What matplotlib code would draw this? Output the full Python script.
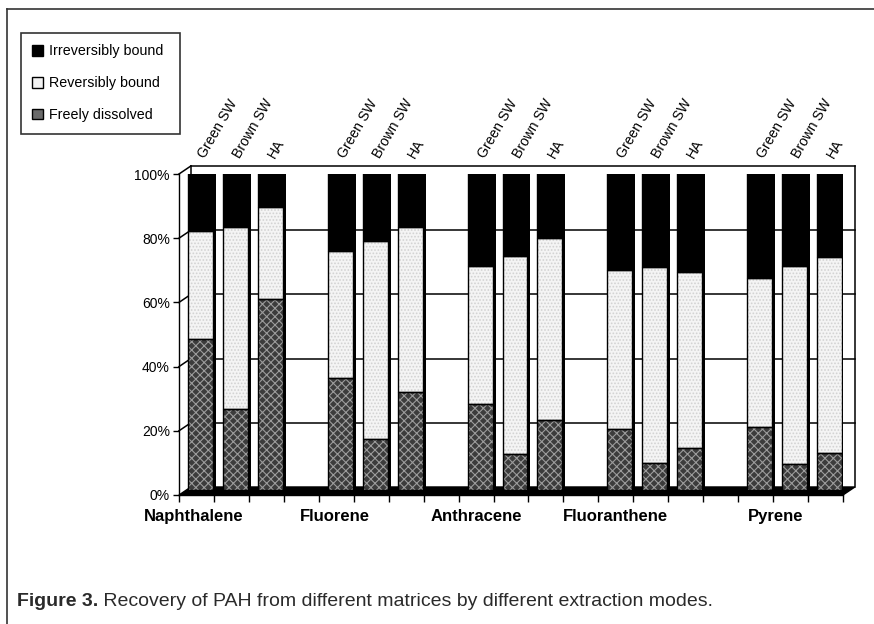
import numpy as np
import matplotlib
matplotlib.use('Agg')
import matplotlib.pyplot as plt
import matplotlib.transforms as mtransforms
from matplotlib.patches import Patch, Polygon
from matplotlib.lines import Line2D

plt.rcParams['font.family'] = ['Liberation Sans', 'DejaVu Sans']
plt.rcParams['hatch.linewidth'] = 0.8

# PAH recovery split into three binding modes (% of total), compound-major order
compounds = ['Naphthalene', 'Fluorene', 'Anthracene', 'Fluoranthene', 'Pyrene']
matrices = ['Green SW', 'Brown SW', 'HA']
freely = [47.0, 25.2, 59.5, 34.8, 15.9, 30.4, 26.8, 11.1, 21.8,
          18.9, 8.3, 13.2, 19.5, 8.1, 11.4]
reversibly = [33.7, 56.7, 28.7, 39.7, 61.8, 51.4, 42.9, 61.9, 56.7,
              49.5, 61.1, 54.8, 46.5, 61.7, 61.3]
irreversibly = [19.3, 18.1, 11.8, 25.5, 22.3, 18.2, 30.3, 27.0, 21.5,
                31.6, 30.6, 32.0, 34.0, 30.2, 27.3]
pct_ticks = [0, 20, 40, 60, 80, 100]

W, H = 874, 624
fig = plt.figure(figsize=(W / 100, H / 100), dpi=100)
ax = fig.add_axes([179 / W, 1 - 495 / H, 664 / W, 321 / H])

n_slots = len(compounds) * 4 - 1
ax.set_xlim(0, n_slots)
ax.set_ylim(0, 100)

# one empty slot between compound groups
slot = np.array([g * 4 + j for g in range(len(compounds))
                 for j in range(len(matrices))]) + 0.5


def shift(dx, dy):
    return ax.transData + mtransforms.ScaledTranslation(dx / 100, dy / 100, fig.dpi_scale_trans)


# pseudo-3D box: back wall, left wall, floor
DX, DY = 0.34, 2.5
for v in pct_ticks[1:]:
    ax.plot([DX, n_slots + DX], [v + DY, v + DY], color='black', lw=1.1,
            clip_on=False, zorder=1)
    ax.plot([0, DX], [v, v + DY], color='black', lw=1.1, clip_on=False, zorder=1)
for xb in (DX, n_slots + DX):
    ax.plot([xb, xb], [DY, 100 + DY], color='black', lw=1.1, clip_on=False, zorder=1)
ax.add_patch(Polygon([(0, 0), (n_slots, 0), (n_slots + DX, DY), (DX, DY)],
                     closed=True, facecolor='black', edgecolor='black',
                     lw=1, clip_on=False, zorder=2))

bw = 0.715
bar_tr = shift(4, 5)
side_tr = shift(7, 8)
ax.bar(slot, 100, width=bw, color='black', transform=side_tr, zorder=3)

fd = np.array(freely)
rb = np.array(reversibly)
ib = np.array(irreversibly)
ax.bar(slot, fd, width=bw, facecolor='#3c3c3c', edgecolor='#9c9c9c',
       hatch='xxxx', lw=0, transform=bar_tr, zorder=4)
ax.bar(slot, rb, bottom=fd, width=bw, facecolor='#f4f4f4', edgecolor='#d2d2d2',
       hatch='.....', lw=0, transform=bar_tr, zorder=4)
ax.bar(slot, ib, bottom=fd + rb, width=bw, facecolor='black', lw=0,
       transform=bar_tr, zorder=4)
for bottom, height in ((0, fd), (fd, rb), (fd + rb, ib)):
    ax.bar(slot, height, bottom=bottom, width=bw, facecolor='none',
           edgecolor='black', lw=1, transform=bar_tr, zorder=5)

# matrix names above each bar
for i, xs in enumerate(slot):
    ax.annotate(matrices[i % 3], xy=(xs, 100), xytext=(8, 10),
                textcoords='offset points', rotation=60, rotation_mode='anchor',
                ha='left', va='bottom', fontsize=10, annotation_clip=False)

label_x = [0.43, 4.46, 8.5, 12.48, 17.08]
for name, xl in zip(compounds, label_x):
    ax.text(xl, -0.068, name, transform=ax.get_xaxis_transform(),
            ha='center', va='center', fontsize=12, fontweight='bold')

ax.set_xticks(range(n_slots + 1))
ax.set_yticks(pct_ticks)
ax.set_yticklabels([f'{v}%' for v in pct_ticks])
ax.tick_params(axis='x', length=5, width=1, labelbottom=False)
ax.tick_params(axis='y', length=4.5, width=1, pad=2, labelsize=10)
for s in ('top', 'right'):
    ax.spines[s].set_visible(False)
for s in ('left', 'bottom'):
    ax.spines[s].set_linewidth(1)
ax.set_facecolor('none')

handles = [Patch(facecolor='black', edgecolor='black'),
           Patch(facecolor='#f2f2f2', edgecolor='black'),
           Patch(facecolor='#6a6a6a', edgecolor='black')]
leg = fig.legend(handles, ['Irreversibly bound', 'Reversibly bound', 'Freely dissolved'],
                 loc='upper left', bbox_to_anchor=(21 / W, 1 - 133 / H, 159 / W, 100 / H),
                 mode='expand', borderaxespad=0, frameon=True, fancybox=False,
                 edgecolor='black', handlelength=0.75, handleheight=0.75,
                 handletextpad=0.4, labelspacing=1.25, borderpad=0.8, fontsize=10.3)
leg.get_frame().set_linewidth(1.2)

# page frame
fig.add_artist(Line2D([7 / W, 1], [1 - 9 / H, 1 - 9 / H], transform=fig.transFigure,
                      color='#333333', lw=1.2))
fig.add_artist(Line2D([7 / W, 7 / W], [0, 1 - 9 / H], transform=fig.transFigure,
                      color='#333333', lw=1.2))

t1 = fig.text(17 / W, 1 - 606 / H, 'Figure 3.', fontsize=14, fontweight='bold',
              color='#2a2a2a', va='baseline')
ax.annotate(' Recovery of PAH from different matrices by different extraction modes.',
            xy=(1, 0), xycoords=t1, va='bottom', ha='left', fontsize=14,
            color='#2a2a2a', annotation_clip=False)

fig.savefig('out.png', dpi=100)
